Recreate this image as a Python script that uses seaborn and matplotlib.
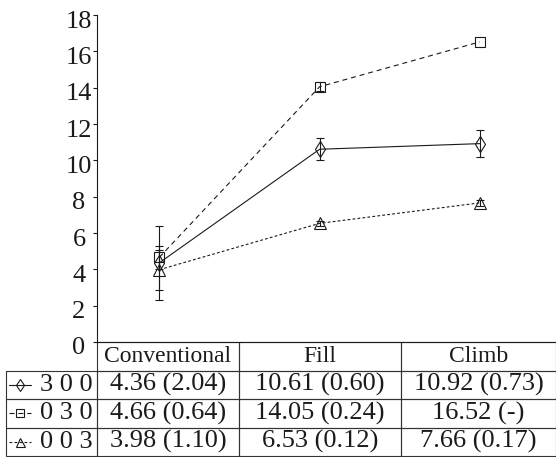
import numpy as np
import pandas as pd
import matplotlib
matplotlib.use("Agg")
import matplotlib.pyplot as plt
import seaborn as sns
from matplotlib.table import Table
from matplotlib.transforms import ScaledTranslation

# values from the table under the chart: mean (sd)
conditions = ["Conventional", "Fill", "Climb"]
groups = ["3 0 0", "0 3 0", "0 0 3"]
mean_300 = [4.36, 10.61, 10.92]
sd_300 = [2.04, 0.60, 0.73]
mean_030 = [4.66, 14.05, 16.52]
sd_030 = [0.64, 0.24, np.nan]
mean_003 = [3.98, 6.53, 7.66]
sd_003 = [1.10, 0.12, 0.17]
y_ticks = [0, 2, 4, 6, 8, 10, 12, 14, 16, 18]

means = {"3 0 0": mean_300, "0 3 0": mean_030, "0 0 3": mean_003}
sds = {"3 0 0": sd_300, "0 3 0": sd_030, "0 0 3": sd_003}
markers = {"3 0 0": "d", "0 3 0": "s", "0 0 3": "^"}
dashes = {"3 0 0": "", "0 3 0": (4.5, 3.5), "0 0 3": (2.5, 2.0)}
marker_sizes = {"3 0 0": 8.5, "0 3 0": 7.5, "0 0 3": 9}

ink = "#1a1a1a"

rows = []
for g in groups:
    for c, m, s in zip(conditions, means[g], sds[g]):
        rows.append({"condition": c, "group": g, "mean": m, "sd": s})
df = pd.DataFrame(rows)

sns.set_theme(style="white")
plt.rcParams["font.family"] = ["Liberation Serif", "DejaVu Serif"]
plt.rcParams["text.color"] = ink

fig = plt.figure(figsize=(5.56, 4.57), dpi=100)
ax = fig.add_axes([97 / 556, 115 / 457, 459 / 556, 327 / 457])

sns.lineplot(data=df, x="condition", y="mean", style="group",
             markers=markers, dashes=dashes, color=ink, lw=0.8,
             markersize=9, mfc="none", mec=ink, mew=0.8,
             sort=False, errorbar=None, legend=False, ax=ax)

# per-series marker sizes
for line, g in zip(ax.get_lines(), groups):
    line.set_markersize(marker_sizes[g])

xpos = np.arange(len(conditions))
for g in groups:
    ax.errorbar(xpos, means[g], yerr=sds[g], fmt="none", ecolor=ink,
                elinewidth=0.8, capsize=3, capthick=0.8)

ax.set_xlim(-0.389, 2.475)
ax.set_ylim(0, 18)
ax.set_xticks([])
ax.set_yticks(y_ticks)
ax.set_xlabel("")
ax.set_ylabel("")
sns.despine(ax=ax, top=True, right=True)
for side in ["left", "bottom"]:
    ax.spines[side].set_color(ink)
    ax.spines[side].set_linewidth(0.8)
ax.tick_params(axis="y", left=True, length=3, width=0.8, color=ink,
               labelsize=19, labelcolor=ink, pad=10)
shift = ScaledTranslation(0, -0.04, fig.dpi_scale_trans)
for lab in ax.get_yticklabels():
    lab.set_ha("center")
    lab.set_transform(lab.get_transform() + shift)

# table under the axes
col_px = [91, 142, 162, 155]
tab_left = (6 - 97) / 459
tab_h = 114 / 327
tb = Table(ax, bbox=[tab_left, -tab_h, 1 - tab_left, tab_h])
for j, c in enumerate(conditions):
    cell = tb.add_cell(0, j + 1, width=col_px[j + 1], height=1, text=c, loc="center")
    cell.get_text().set_fontsize(17)
for i, g in enumerate(groups):
    cell = tb.add_cell(i + 1, 0, width=col_px[0], height=1, text=g, loc="right")
    cell.PAD = 0.05
    cell.get_text().set_fontsize(19)
    for j in range(len(conditions)):
        m, s = means[g][j], sds[g][j]
        txt = f"{m:.2f} (-)" if np.isnan(s) else f"{m:.2f} ({s:.2f})"
        c = tb.add_cell(i + 1, j + 1, width=col_px[j + 1], height=1, text=txt, loc="center")
        c.get_text().set_fontsize(19)
tb.auto_set_font_size(False)
for cell in tb.get_celld().values():
    cell.set_edgecolor("#333333")
    cell.set_linewidth(0.8)
    cell.set_facecolor("none")
ax.add_table(tb)

fig.canvas.draw()

# legend keys inside the row label cells
for i, g in enumerate(groups):
    cell = tb[i + 1, 0]
    x0, w = cell.get_x(), cell.get_width()
    yc = cell.get_y() + cell.get_height() / 2
    key, = ax.plot([x0 + 0.03 * w, x0 + 0.15 * w, x0 + 0.27 * w], [yc] * 3,
                   transform=ax.transAxes, clip_on=False, color=ink, lw=0.8,
                   marker=markers[g], markevery=[1], ms=marker_sizes[g] * 0.72,
                   mfc="none", mec=ink, mew=0.8)
    if dashes[g]:
        key.set_dashes(dashes[g])

fig.savefig("out.png", dpi=100)
